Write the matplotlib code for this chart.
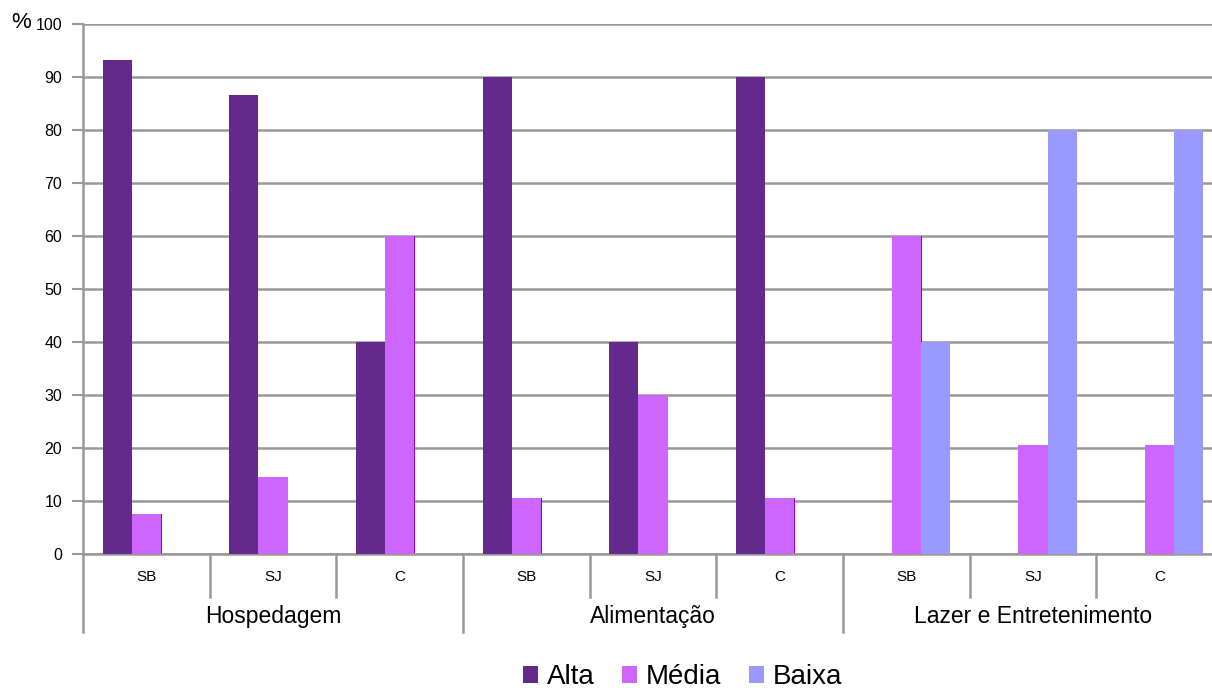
import matplotlib

matplotlib.use("Agg")
import matplotlib.pyplot as plt
import numpy as np

plt.rcParams["font.family"] = ["Liberation Sans", "DejaVu Sans"]

groups = ["Hospedagem", "Alimentação", "Lazer e Entretenimento"]
sub_labels = ["SB", "SJ", "C"] * 3
series = ["Alta", "Média", "Baixa"]
alta = [93.3, 86.7, 40, 90, 40, 90, 0, 0, 0]
media = [7.5, 14.5, 60, 10.5, 30, 10.5, 60, 20.5, 20.5]
baixa = [0, 0, 0, 0, 0, 0, 40, 80, 80]
colors = ["#632a8c", "#cc66ff", "#9999ff"]

fig = plt.figure(figsize=(12.12, 6.88), dpi=100)
# plot area runs past the right edge of the image, as in the original
ax = fig.add_axes([0.0685, 0.195, 0.9406, 0.77])

x = np.arange(len(sub_labels))
w = 0.23
for i, (vals, c, name) in enumerate(zip([alta, media, baixa], colors, series)):
    ax.bar(x + (i - 1) * w, vals, w, color=c, label=name, zorder=3)
    if name == "Média":
        # thin darker shadow on the right edge
        ax.bar(x + (i - 1) * w + w / 2, vals, 0.012, color="#9900cc", zorder=2.5)

ax.set_xlim(-0.5, 8.5)
ax.set_ylim(0, 100)
ax.set_yticks(np.arange(0, 101, 10))
ax.tick_params(axis="y", length=8, width=1.5, color="#999999", labelsize=11.5, pad=7)
ax.set_xticks([])
ax.grid(axis="y", color="#999999", linewidth=1.8, zorder=0)
for s in ["top", "right"]:
    ax.spines[s].set_visible(False)
for s in ["left", "bottom"]:
    ax.spines[s].set_color("#999999")
    ax.spines[s].set_linewidth(1.8)

trans = ax.get_xaxis_transform()
for xi, lab in zip(x, sub_labels):
    ax.text(xi, -0.043, lab, transform=trans, ha="center", va="center", fontsize=11)
for b in [0.5, 1.5, 3.5, 4.5, 6.5, 7.5]:
    ax.plot([b, b], [0, -0.081], transform=trans, color="#999999", lw=1.8, clip_on=False)
for b in [-0.5, 2.5, 5.5]:
    ax.plot([b, b], [0, -0.147], transform=trans, color="#999999", lw=1.8, clip_on=False)
for gi, g in enumerate(groups):
    ax.text(gi * 3 + 1, -0.119, g, transform=trans, ha="center", va="center", fontsize=16.5)

fig.text(0.009, 0.967, "%", fontsize=16, ha="left", va="center")

fig.legend(
    *ax.get_legend_handles_labels(),
    loc="center",
    bbox_to_anchor=(0.563, 0.016),
    ncol=3,
    frameon=False,
    fontsize=20,
    handlelength=0.55,
    handleheight=0.55,
    handletextpad=0.3,
    columnspacing=1.0,
)

fig.savefig("out.png", dpi=100)
